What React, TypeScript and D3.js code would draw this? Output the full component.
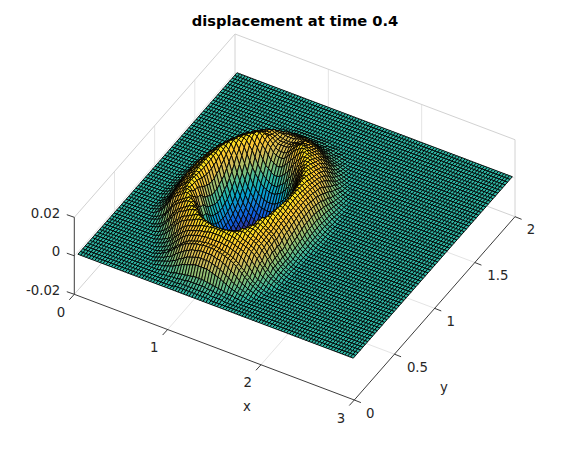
import React from "react";
import * as d3 from "d3";

const xTicks = [0, 1, 2, 3];
const yTicks = [0, 0.5, 1, 1.5, 2];
const zTicks = [-0.02, 0, 0.02];
const zTickLabels = ["-0.02", "0", "0.02"];
const parula = ["#352A87", "#0F5CDD", "#1481D6", "#06A4CA", "#2EB7A4", "#87BF77", "#D1BB59", "#FEC832", "#F9FB0E"];
const colorStops = [-0.0165, -0.0124, -0.0083, -0.0041, 0, 0.0049, 0.00975, 0.0146, 0.0195];

const nodesX = 100;
const nodesY = 67;
const startX = 0.018;
const startY = 0.024;
const stepX = 0.0298;
const stepY = 0.03;
const unit = 0.0005;
const bumpCenterCol = 36;

// Heights, in units of 0.0005. One row per mesh row, from y low to y high.
// Each row is [first column relative to bumpCenterCol, ...heights]; everything outside is flat.
const bumpRows = [
[0],
[-2,1,1,1,1,1,1,1,1,1,1,1,1,1],
[-6,1,1,1,1,1,2,2,2,2,2,2,2,2,2,2,2,1,1,1,1,1],
[-8,1,1,1,2,2,2,3,3,3,4,4,4,4,4,4,4,3,3,3,2,2,2,1,1,1],
[-10,1,1,2,2,2,3,4,4,5,5,6,6,7,7,7,7,7,6,6,5,5,4,4,3,2,2,2,1,1],
[-12,1,2,2,3,4,5,6,8,9,11,12,13,14,15,16,16,16,16,16,15,14,13,12,11,9,8,6,5,4,3,2,2,1],
[-13,1,2,3,4,5,6,8,9,12,13,15,17,18,19,20,21,21,21,21,21,20,19,18,17,15,13,12,9,8,6,5,4,3,2,1],
[-14,1,2,3,4,6,7,9,12,14,16,18,20,21,23,23,24,25,25,25,25,25,24,23,23,21,20,18,16,14,12,9,7,6,4,3,2,1],
[-15,1,2,3,5,6,9,11,14,16,19,21,23,24,25,26,27,27,28,28,28,28,28,27,27,26,25,24,23,21,19,16,14,11,9,6,5,3,2,1],
[-15,1,2,3,5,6,9,11,14,16,19,21,23,24,25,26,27,27,28,28,28,28,28,27,27,26,25,24,23,21,19,16,14,11,9,6,5,3,2,1],
[-16,1,2,3,5,6,9,12,15,18,21,23,25,26,27,28,29,29,30,30,30,30,30,30,30,29,29,28,27,26,25,23,21,18,15,12,9,6,5,3,2,1],
[-17,1,2,3,5,7,9,13,16,19,22,24,26,27,28,29,30,31,31,32,33,33,33,33,33,32,31,31,30,29,28,27,26,24,22,19,16,13,9,7,5,3,2,1],
[-18,1,2,3,5,6,9,13,16,20,23,25,27,28,29,30,31,33,33,34,34,35,35,35,35,35,34,34,33,33,31,30,29,28,27,25,23,20,16,13,9,6,5,3,2,1],
[-19,1,2,4,6,9,12,16,20,23,26,27,29,30,31,33,34,35,35,34,34,33,33,33,33,33,34,34,35,35,34,33,31,30,29,27,26,23,20,16,12,9,6,4,2,1],
[-20,1,2,4,6,9,12,16,20,23,26,28,29,31,32,34,35,34,33,32,31,29,28,27,27,27,28,29,31,32,33,34,35,34,32,31,29,28,26,23,20,16,12,9,6,4,2,1],
[-22,1,2,3,5,8,11,15,19,23,26,28,29,31,33,34,35,34,31,29,26,24,21,20,18,18,18,20,21,24,26,29,31,34,35,34,33,31,29,28,26,23,19,15,11,8,5,3,2,1],
[-22,1,2,4,6,9,13,18,22,25,27,29,31,33,34,34,33,29,26,22,18,14,12,10,8,8,8,10,12,14,18,22,26,29,33,34,34,33,31,29,27,25,22,18,13,9,6,4,2,1],
[-24,1,2,3,5,8,12,16,21,24,27,29,31,33,34,34,32,28,24,18,13,9,5,3,1,-1,-1,-1,1,3,5,9,13,18,24,28,32,34,34,33,31,29,27,24,21,16,12,8,5,3,2,1],
[-24,1,2,4,6,9,14,18,23,26,28,30,32,34,34,32,28,22,16,10,5,1,-3,-6,-7,-9,-9,-9,-7,-6,-3,1,5,10,16,22,28,32,34,34,32,30,28,26,23,18,14,9,6,4,2,1],
[-25,1,3,5,8,12,16,21,25,27,29,31,34,35,33,28,22,15,8,3,-3,-7,-11,-13,-15,-16,-16,-16,-15,-13,-11,-7,-3,3,8,15,22,28,33,35,34,31,29,27,25,21,16,12,8,5,3,1],
[-26,1,2,3,6,9,13,18,23,26,28,30,33,35,34,29,24,16,8,2,-4,-9,-13,-17,-19,-21,-21,-22,-21,-21,-19,-17,-13,-9,-4,2,8,16,24,29,34,35,33,30,28,26,23,18,13,9,6,3,2,1],
[-26,1,2,4,7,11,15,20,24,27,29,31,34,34,31,26,18,10,3,-4,-10,-15,-18,-21,-24,-26,-27,-27,-27,-26,-24,-21,-18,-15,-10,-4,3,10,18,26,31,34,34,31,29,27,24,20,15,11,7,4,2,1],
[-26,1,3,5,8,12,17,21,25,28,30,33,35,33,29,22,13,5,-3,-9,-15,-19,-23,-26,-28,-30,-31,-31,-31,-30,-28,-26,-23,-19,-15,-9,-3,5,13,22,29,33,35,33,30,28,25,21,17,12,8,5,3,1],
[-26,1,3,5,8,12,17,21,25,28,30,33,35,33,29,22,13,5,-3,-9,-15,-19,-23,-26,-28,-30,-31,-31,-31,-30,-28,-26,-23,-19,-15,-9,-3,5,13,22,29,33,35,33,30,28,25,21,17,12,8,5,3,1],
[-26,1,3,5,9,13,18,23,26,29,31,33,35,32,26,18,9,1,-7,-13,-18,-23,-27,-30,-32,-33,-34,-34,-34,-33,-32,-30,-27,-23,-18,-13,-7,1,9,18,26,32,35,33,31,29,26,23,18,13,9,5,3,1],
[-27,1,2,3,6,9,14,19,23,27,29,31,34,34,31,24,14,5,-3,-11,-17,-21,-26,-30,-32,-34,-35,-36,-36,-36,-35,-34,-32,-30,-26,-21,-17,-11,-3,5,14,24,31,34,34,31,29,27,23,19,14,9,6,3,2,1],
[-27,1,2,4,6,10,15,20,24,27,30,32,34,34,29,21,12,3,-6,-13,-19,-24,-28,-32,-34,-36,-36,-37,-37,-37,-36,-36,-34,-32,-28,-24,-19,-13,-6,3,12,21,29,34,34,32,30,27,24,20,15,10,6,4,2,1],
[-27,1,2,4,7,11,16,21,25,28,30,33,35,33,28,20,10,1,-7,-15,-21,-26,-30,-33,-35,-36,-37,-38,-38,-38,-37,-36,-35,-33,-30,-26,-21,-15,-7,1,10,20,28,33,35,33,30,28,25,21,16,11,7,4,2,1],
[-27,1,2,4,7,11,16,21,25,28,30,33,35,33,27,18,8,-1,-9,-16,-22,-27,-31,-34,-36,-37,-38,-38,-38,-38,-38,-37,-36,-34,-31,-27,-22,-16,-9,-1,8,18,27,33,35,33,30,28,25,21,16,11,7,4,2,1],
[-27,1,2,4,7,11,16,21,25,28,30,33,35,33,27,18,8,-1,-9,-16,-22,-27,-31,-34,-36,-37,-38,-38,-38,-38,-38,-37,-36,-34,-31,-27,-22,-16,-9,-1,8,18,27,33,35,33,30,28,25,21,16,11,7,4,2,1],
[-27,1,2,4,7,11,16,21,25,28,30,33,35,33,27,18,8,-1,-9,-16,-22,-27,-31,-34,-36,-37,-38,-38,-38,-38,-38,-37,-36,-34,-31,-27,-22,-16,-9,-1,8,18,27,33,35,33,30,28,25,21,16,11,7,4,2,1],
[-27,1,2,4,7,11,16,21,25,28,30,33,35,33,28,20,10,1,-7,-15,-21,-26,-30,-33,-35,-36,-37,-38,-38,-38,-37,-36,-35,-33,-30,-26,-21,-15,-7,1,10,20,28,33,35,33,30,28,25,21,16,11,7,4,2,1],
[-27,1,2,4,6,10,15,20,24,27,30,32,34,34,29,21,12,3,-6,-13,-19,-24,-28,-32,-34,-36,-36,-37,-37,-37,-36,-36,-34,-32,-28,-24,-19,-13,-6,3,12,21,29,34,34,32,30,27,24,20,15,10,6,4,2,1],
[-27,1,2,3,6,9,14,19,23,27,29,31,34,34,31,24,14,5,-3,-11,-17,-21,-26,-30,-32,-34,-35,-36,-36,-36,-35,-34,-32,-30,-26,-21,-17,-11,-3,5,14,24,31,34,34,31,29,27,23,19,14,9,6,3,2,1],
[-26,1,3,5,9,13,18,23,26,29,31,33,35,32,26,18,9,1,-7,-13,-18,-23,-27,-30,-32,-33,-34,-34,-34,-33,-32,-30,-27,-23,-18,-13,-7,1,9,18,26,32,35,33,31,29,26,23,18,13,9,5,3,1],
[-26,1,3,5,8,12,17,21,25,28,30,33,35,33,29,22,13,5,-3,-9,-15,-19,-23,-26,-28,-30,-31,-31,-31,-30,-28,-26,-23,-19,-15,-9,-3,5,13,22,29,33,35,33,30,28,25,21,17,12,8,5,3,1],
[-26,1,2,4,7,11,15,20,24,27,29,31,34,34,31,26,18,10,3,-4,-10,-15,-18,-21,-24,-26,-27,-27,-27,-26,-24,-21,-18,-15,-10,-4,3,10,18,26,31,34,34,31,29,27,24,20,15,11,7,4,2,1],
[-26,1,2,3,6,9,13,18,23,26,28,30,33,35,34,29,24,16,8,2,-4,-9,-13,-17,-19,-21,-21,-22,-21,-21,-19,-17,-13,-9,-4,2,8,16,24,29,34,35,33,30,28,26,23,18,13,9,6,3,2,1],
[-25,1,3,5,8,12,16,21,25,27,29,31,34,35,33,28,22,15,8,3,-3,-7,-11,-13,-15,-16,-16,-16,-15,-13,-11,-7,-3,3,8,15,22,28,33,35,34,31,29,27,25,21,16,12,8,5,3,1],
[-25,1,2,4,6,9,14,18,23,26,28,30,32,34,34,32,28,22,16,10,5,1,-3,-6,-7,-9,-9,-9,-7,-6,-3,1,5,10,16,22,28,32,34,34,32,30,28,26,23,18,14,9,6,4,2,1],
[-25,1,2,3,5,8,12,16,21,24,27,29,31,33,34,34,32,28,24,18,12,7,3,0,-2,-4,-4,-4,-1,1,4,9,13,18,24,28,32,34,34,33,31,29,27,24,21,16,12,8,5,3,2,1],
[-24,1,2,4,6,9,13,18,22,25,27,29,31,33,34,34,33,29,25,20,15,10,8,5,3,3,4,6,9,12,17,22,26,29,33,34,34,33,31,29,27,25,22,18,13,9,6,4,2,1],
[-24,1,2,3,5,8,11,15,19,23,26,28,29,31,33,34,35,33,29,26,22,18,14,12,10,10,11,14,17,21,24,28,31,34,35,34,33,31,29,28,26,23,19,15,11,8,5,3,2,1],
[-23,1,2,4,6,9,12,16,20,23,26,28,29,31,32,34,34,32,29,26,23,19,17,16,16,17,20,23,27,30,32,34,35,34,32,31,29,28,26,23,20,16,12,9,6,4,2,1],
[-22,1,2,4,6,9,12,16,20,23,26,27,29,30,31,32,31,30,27,24,21,19,19,19,20,23,26,29,32,34,34,33,31,30,29,27,26,23,20,16,12,9,6,4,2,1],
[-22,1,2,3,5,6,9,13,16,20,23,25,27,28,29,29,28,28,26,24,22,22,22,22,23,25,27,29,30,32,31,30,29,28,27,25,23,20,16,13,9,6,5,3,2,1],
[-21,1,2,3,5,7,9,13,16,19,22,24,26,27,27,27,26,25,23,22,22,22,22,23,25,26,27,29,29,29,28,27,26,24,22,19,16,13,9,7,5,3,2,1],
[-20,1,2,3,5,6,9,12,15,18,21,23,25,26,26,25,24,22,22,21,21,21,22,23,25,26,28,28,27,26,25,23,21,18,15,12,9,6,5,3,2,1],
[-19,1,2,3,5,6,9,11,14,16,19,21,23,24,23,23,23,22,22,22,22,23,24,24,25,25,25,24,23,21,19,16,14,11,9,6,5,3,2,1],
[-18,1,2,3,4,6,7,9,12,14,16,18,20,21,21,20,21,21,21,21,22,22,22,22,23,21,20,18,16,14,12,9,7,6,4,3,2,1],
[-17,1,2,3,4,5,6,8,9,12,13,15,17,18,19,19,19,19,19,19,20,20,19,18,17,15,13,12,9,8,6,5,4,3,2,1],
[-16,1,2,2,3,4,5,6,8,9,11,12,13,14,15,16,16,16,16,16,15,14,13,12,11,9,8,6,5,4,3,2,2,1],
[-15,1,1,2,3,3,4,5,6,7,8,9,9,10,11,11,11,11,11,10,9,9,8,7,6,5,4,3,3,2,1,1],
[-14,1,1,2,2,2,3,4,4,5,5,6,6,7,7,7,7,7,6,6,5,5,4,4,3,2,2,2,1,1],
[-12,1,1,1,2,2,2,3,3,3,4,4,4,4,4,4,4,3,3,3,2,2,2,1,1,1],
[-10,1,1,1,1,1,2,2,2,2,2,2,2,2,2,2,2,1,1,1,1,1],
[-6,1,1,1,1,1,1,1,1,1,1,1,1,1],
];

const heightAt = (i: number, j: number) => {
  const row = bumpRows[j];
  if (!row) return 0;
  const index = 1 + i - bumpCenterCol - row[0];
  return index < 1 ? 0 : (row[index] ?? 0) * unit;
};

const xToPx = d3.scaleLinear().domain([0, 3]).range([0, 280]);
const yToPx = d3.scaleLinear().domain([0, 2]).range([0, 160.7]);
const xToPy = d3.scaleLinear().domain([0, 3]).range([0, 105.7]);
const yToPy = d3.scaleLinear().domain([0, 2]).range([0, -183.3]);
const zToPy = d3.scaleLinear().domain([-0.02, 0.02]).range([0, -77]);
const originX = 74.3;
const originY = 294.3;
const project = (x: number, y: number, z: number): [number, number] => [
  originX + xToPx(x) + yToPx(y),
  originY + xToPy(x) + yToPy(y) + zToPy(z),
];

const colorScale = d3.scaleLinear<string>().domain(colorStops).range(parula).clamp(true);

const path = d3.line();
const seg = (a: [number, number], b: [number, number]) => path([a, b]) as string;

const gridColor = "#e4e4e4";
const boxColor = "#d2d2d2";
const axisColor = "#262626";

export default function App() {
  const cells: React.ReactNode[] = [];
  for (let j = nodesY - 2; j >= 0; j--) {
    for (let i = 0; i < nodesX - 1; i++) {
      const corners = [
        [i, j],
        [i + 1, j],
        [i + 1, j + 1],
        [i, j + 1],
      ];
      const zs = corners.map(([a, b]) => heightAt(a, b));
      const pts = corners.map(([a, b], k) => project(startX + a * stepX, startY + b * stepY, zs[k]));
      cells.push(<path key={`${i}-${j}`} d={(path(pts) as string) + "Z"} fill={colorScale(d3.mean(zs) as number)} />);
    }
  }

  const grid: string[] = [];
  xTicks.slice(1, -1).forEach((x) => {
    grid.push(seg(project(x, 0, -0.02), project(x, 2, -0.02)));
    grid.push(seg(project(x, 2, -0.02), project(x, 2, 0.02)));
  });
  yTicks.slice(1, -1).forEach((y) => {
    grid.push(seg(project(0, y, -0.02), project(3, y, -0.02)));
    grid.push(seg(project(0, y, -0.02), project(0, y, 0.02)));
  });
  grid.push(seg(project(0, 0, 0), project(0, 2, 0)));
  grid.push(seg(project(0, 2, 0), project(3, 2, 0)));

  const box = [
    seg(project(0, 0, -0.02), project(0, 2, -0.02)),
    seg(project(0, 2, -0.02), project(3, 2, -0.02)),
    seg(project(0, 0, 0.02), project(0, 2, 0.02)),
    seg(project(0, 2, 0.02), project(3, 2, 0.02)),
    seg(project(0, 2, -0.02), project(0, 2, 0.02)),
    seg(project(3, 2, -0.02), project(3, 2, 0.02)),
  ];

  const textStyle = { fontFamily: "DejaVu Sans", fontSize: 13.3, fill: axisColor };

  return (
    <svg width={570} height={450} style={{ position: "absolute", left: 0, top: 0, background: "#fff" }}>
      <g fill="none" strokeWidth={1}>
        {grid.map((d, k) => <path key={k} d={d} stroke={gridColor} />)}
        {box.map((d, k) => <path key={k} d={d} stroke={boxColor} />)}
      </g>
      <g stroke="#000" strokeWidth={0.9} strokeLinejoin="round">{cells}</g>
      <g fill="none" stroke={axisColor} strokeWidth={0.9}>
        <path d={seg(project(0, 0, -0.02), project(3, 0, -0.02))} />
        <path d={seg(project(3, 0, -0.02), project(3, 2, -0.02))} />
        <path d={seg(project(0, 0, -0.02), project(0, 0, 0.02))} />
        {xTicks.map((x) => {
          const p = project(x, 0, -0.02);
          return <path key={x} d={seg(p, [p[0] - 5, p[1] + 5.5])} />;
        })}
        {yTicks.map((y) => {
          const p = project(3, y, -0.02);
          return <path key={y} d={seg(p, [p[0] + 6.6, p[1] + 2.6])} />;
        })}
        {zTicks.map((z) => {
          const p = project(0, 0, z);
          return <path key={z} d={seg(p, [p[0] - 7.5, p[1] - 2.6])} />;
        })}
      </g>
      <g style={textStyle} textAnchor="middle" dominantBaseline="middle">
        {xTicks.map((x) => {
          const p = project(x, 0, -0.02);
          return <text key={x} x={p[0] - 13.3} y={p[1] + 18.5}>{x}</text>;
        })}
        {yTicks.map((y) => {
          const p = project(3, y, -0.02);
          return <text key={y} x={p[0] + 16 + (String(y).length > 1 ? 7 : 0)} y={p[1] + 13.5}>{y}</text>;
        })}
        {zTicks.map((z, k) => {
          const p = project(0, 0, z);
          return <text key={z} x={p[0] - 14} y={p[1] - 3.5} textAnchor="end">{zTickLabels[k]}</text>;
        })}
        <text x={247} y={407}>x</text>
        <text x={444} y={388}>y</text>
      </g>
      <text x={295} y={22} textAnchor="middle" dominantBaseline="middle" fontFamily="DejaVu Sans" fontWeight="bold" fontSize={14.67} fill="#000">
        displacement at time 0.4
      </text>
    </svg>
  );
}
